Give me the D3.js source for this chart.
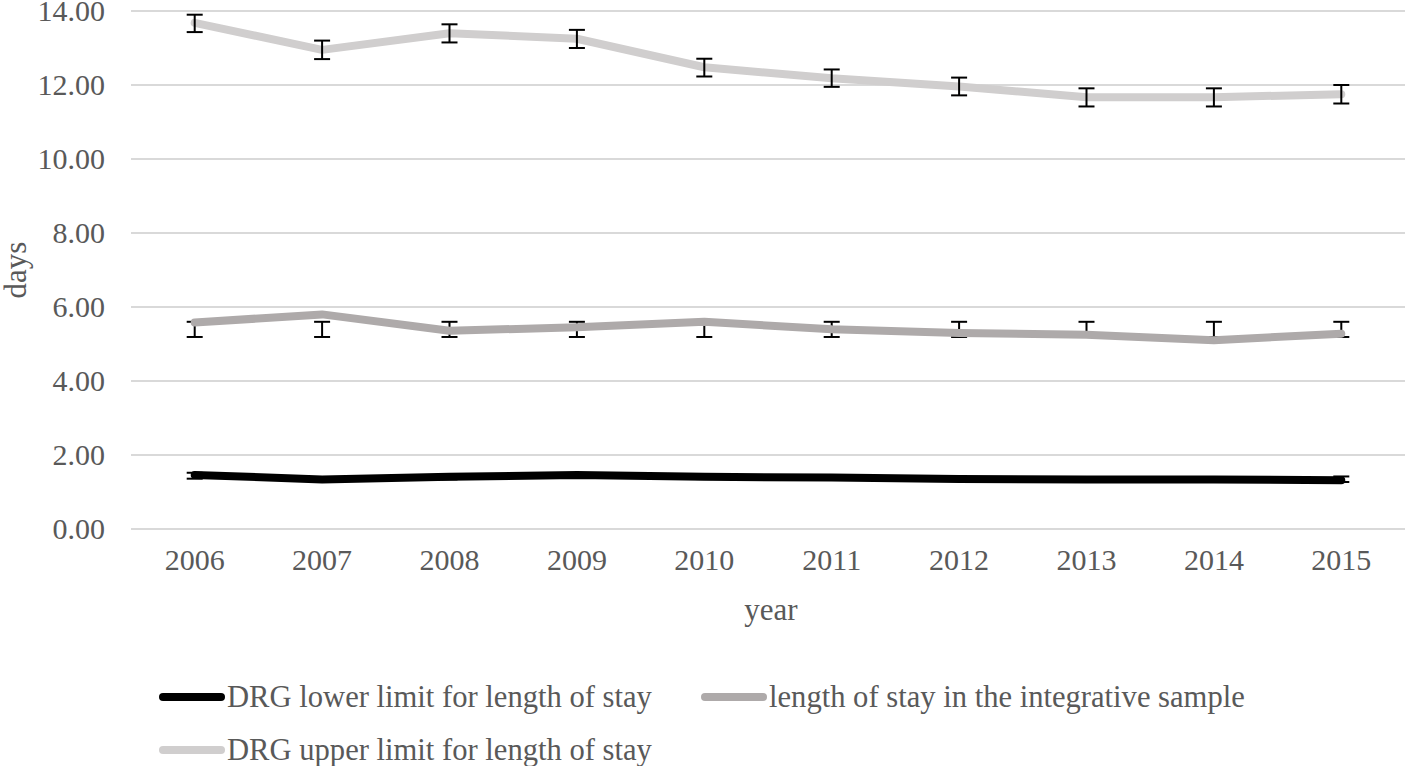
<!DOCTYPE html>
<html>
<head>
<meta charset="utf-8">
<script src="https://cdn.jsdelivr.net/npm/d3@7"></script>
<style>
  body { margin: 0; background: #fff; }
  svg text { font-family: "Liberation Serif", "Times New Roman", serif; fill: #595959; }
</style>
</head>
<body>
<svg width="1413" height="766"></svg>
<script>
// Chart values
const years = ['2006', '2007', '2008', '2009', '2010', '2011', '2012', '2013', '2014', '2015'];
const yTicks = [0, 2, 4, 6, 8, 10, 12, 14];

const lowerLimit = [1.46, 1.34, 1.41, 1.46, 1.41, 1.39, 1.35, 1.34, 1.34, 1.32];
const lowerErrLow = [1.36, 1.30, 1.34, 1.38, 1.35, 1.34, 1.30, 1.29, 1.29, 1.27];
const lowerErrHigh = [1.52, 1.38, 1.46, 1.50, 1.45, 1.42, 1.39, 1.38, 1.38, 1.42];

const sampleStay = [5.58, 5.80, 5.36, 5.45, 5.60, 5.40, 5.30, 5.25, 5.10, 5.28];
const sampleErrLow = [5.19, 5.19, 5.19, 5.19, 5.19, 5.19, 5.19, 5.19, 5.19, 5.19];
const sampleErrHigh = [5.60, 5.60, 5.60, 5.60, 5.60, 5.60, 5.60, 5.60, 5.60, 5.60];

const upperLimit = [13.68, 12.95, 13.40, 13.25, 12.48, 12.18, 11.96, 11.67, 11.67, 11.75];
const upperErrLow = [13.43, 12.70, 13.15, 13.00, 12.23, 11.95, 11.72, 11.42, 11.42, 11.50];
const upperErrHigh = [13.90, 13.20, 13.64, 13.49, 12.71, 12.42, 12.20, 11.91, 11.91, 12.00];

const seriesNames = [
  'DRG lower limit for length of stay',
  'length of stay in the integrative sample',
  'DRG upper limit for length of stay'
];
const seriesColors = ['#000000', '#aeaaaa', '#d0cece'];

let series = [
  { name: seriesNames[0], values: lowerLimit, lo: lowerErrLow, hi: lowerErrHigh, color: seriesColors[0], barsOnTop: false },
  { name: seriesNames[1], values: sampleStay, lo: sampleErrLow, hi: sampleErrHigh, color: seriesColors[1], barsOnTop: false },
  { name: seriesNames[2], values: upperLimit, lo: upperErrLow, hi: upperErrHigh, color: seriesColors[2], barsOnTop: true }
];

// Layout
let svg = d3.select('svg');
let plotLeft = 131, plotRight = 1405, plotTop = 11, plotBottom = 529;
let fontSize = 30;

let x = d3.scaleBand().domain(years).range([plotLeft, plotRight]);
let y = d3.scaleLinear().domain([0, 14]).range([plotBottom, plotTop]);
let cx = d => x(d) + x.bandwidth() / 2;

// Gridlines
svg.append('g')
  .selectAll('line')
  .data(yTicks)
  .enter().append('line')
    .attr('x1', plotLeft).attr('x2', plotRight)
    .attr('y1', d => y(d)).attr('y2', d => y(d))
    .attr('stroke', '#d9d9d9')
    .attr('stroke-width', 2);

// Y axis labels
let yAxis = svg.append('g')
  .attr('transform', 'translate(' + (plotLeft - 26) + ',0)')
  .call(d3.axisLeft(y).tickValues(yTicks).tickFormat(d3.format('.2f')).tickSize(0).tickPadding(0));
yAxis.select('.domain').remove();
yAxis.selectAll('text')
  .attr('font-size', fontSize)
  .attr('fill', '#595959');

// X axis labels
let xAxis = svg.append('g')
  .attr('transform', 'translate(0,' + (plotBottom + 20) + ')')
  .call(d3.axisBottom(x).tickSize(0).tickPadding(0));
xAxis.select('.domain').remove();
xAxis.selectAll('text')
  .attr('font-size', fontSize)
  .attr('fill', '#595959');

// Axis titles
svg.append('text')
  .attr('x', (plotLeft + plotRight) / 2 + 3)
  .attr('y', 620)
  .attr('text-anchor', 'middle')
  .attr('font-size', 31)
  .text('year');

svg.append('text')
  .attr('transform', 'translate(26,' + ((plotTop + plotBottom) / 2) + ') rotate(-90)')
  .attr('text-anchor', 'middle')
  .attr('font-size', 31)
  .text('days');

let line = d3.line()
  .x((d, i) => cx(years[i]))
  .y(d => y(d));

function drawBars(s) {
  let g = svg.append('g').attr('stroke', '#000').attr('stroke-width', 2);
  years.forEach((yr, i) => {
    let px = cx(yr);
    g.append('line').attr('x1', px).attr('x2', px).attr('y1', y(s.lo[i])).attr('y2', y(s.hi[i]));
    g.append('line').attr('x1', px - 8).attr('x2', px + 8).attr('y1', y(s.lo[i])).attr('y2', y(s.lo[i]));
    g.append('line').attr('x1', px - 8).attr('x2', px + 8).attr('y1', y(s.hi[i])).attr('y2', y(s.hi[i]));
  });
}

// Series
series.forEach(s => {
  if (!s.barsOnTop) drawBars(s);
  svg.append('path')
    .datum(s.values)
    .attr('d', line)
    .attr('fill', 'none')
    .attr('stroke', s.color)
    .attr('stroke-width', 8)
    .attr('stroke-linejoin', 'round')
    .attr('stroke-linecap', 'round');
  if (s.barsOnTop) drawBars(s);
});

// Legend
let legendPos = [[163, 697], [705, 697], [163, 750]];
let legend = svg.append('g')
  .selectAll('g')
  .data(series)
  .enter().append('g')
    .attr('transform', (d, i) => 'translate(' + legendPos[i][0] + ',' + legendPos[i][1] + ')');

legend.append('line')
  .attr('x1', 0).attr('x2', 58)
  .attr('y1', 0).attr('y2', 0)
  .attr('stroke', d => d.color)
  .attr('stroke-width', 8)
  .attr('stroke-linecap', 'round');

legend.append('text')
  .attr('x', 64)
  .attr('y', 10)
  .attr('font-size', 30.6)
  .text(d => d.name);
</script>
</body>
</html>
